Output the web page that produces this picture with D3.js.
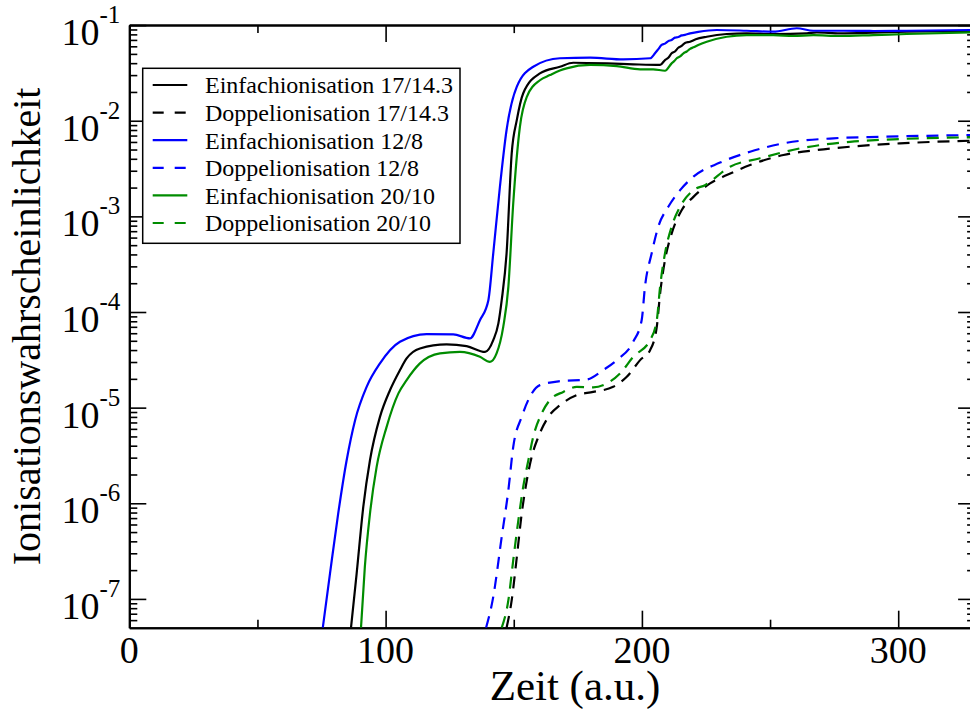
<!DOCTYPE html>
<html>
<head>
<meta charset="utf-8">
<script src="https://cdn.jsdelivr.net/npm/d3@7"></script>
<style>
  html, body { margin: 0; padding: 0; background: #fff; }
  svg { display: block; font-family: "Liberation Serif", "Times New Roman", serif; }
</style>
</head>
<body>
<svg id="chart" width="970" height="709"></svg>
<script>
// Time (a.u.) and ionisation probability for each laser setting.
const singleBlackT = [86.5, 88.7, 91.3, 93.9, 97.8, 101.7, 105.6, 108.2, 113.4, 123.8, 131.6, 138.8, 142.0, 144.0, 145.3, 147.2, 149.2, 151.2, 153.7, 160.2, 168.0, 173.2, 186.3, 196.6, 207.1, 209.0, 210.3, 211.6, 212.9, 214.2, 215.5, 216.8, 218.8, 221.0, 225.3, 233.1, 240.9, 251.3, 264.3, 268.2, 277.3, 290.3, 303.3, 330];
const singleBlackP = [5e-8, 1.84e-7, 9.2e-7, 2.82e-6, 8.0e-6, 1.52e-5, 2.47e-5, 3.27e-5, 4.16e-5, 4.58e-5, 4.4e-5, 3.83e-5, 5.08e-5, 7.6e-5, 1.33e-4, 4.1e-4, 4.56e-3, 0.0102, 0.0194, 0.0313, 0.0367, 0.0404, 0.0398, 0.0389, 0.0383, 0.0431, 0.0455, 0.0507, 0.053, 0.058, 0.0605, 0.065, 0.067, 0.071, 0.0756, 0.0807, 0.082, 0.0807, 0.082, 0.084, 0.082, 0.0833, 0.0853, 0.0868];

const doubleBlackT = [147.2, 149.2, 151.2, 153.1, 155.1, 157.0, 159.6, 163.5, 168.0, 174.6, 181.0, 188.8, 194.1, 199.3, 203.2, 205.8, 207.1, 209.0, 211.6, 215.5, 220.1, 226.6, 233.1, 242.2, 255.2, 268.2, 281.2, 300.7, 330];
const doubleBlackP = [5e-8, 9.7e-8, 2.75e-7, 7.8e-7, 1.74e-6, 3.06e-6, 4.95e-6, 8.0e-6, 1.06e-5, 1.35e-5, 1.46e-5, 1.65e-5, 2.1e-5, 3.14e-5, 3.99e-5, 7.0e-5, 1.56e-4, 3.49e-4, 6.6e-4, 1.16e-3, 1.6e-3, 2.21e-3, 2.7e-3, 3.44e-3, 4.38e-3, 4.94e-3, 5.35e-3, 5.8e-3, 6.2e-3];

const singleBlueT = [75.5, 78.3, 81.5, 84.8, 88.1, 92.6, 97.8, 105.6, 116.0, 126.4, 132.9, 136.8, 140.1, 142.0, 144.6, 147.2, 151.2, 157.6, 168.0, 179.8, 192.7, 203.2, 205.1, 206.4, 207.7, 209.0, 210.3, 211.6, 212.9, 214.2, 215.5, 216.8, 218.8, 222.0, 229.2, 240.9, 251.3, 260.4, 266.9, 277.3, 290.3, 303.3, 330];
const singleBlueP = [5e-8, 1.84e-7, 7.8e-7, 2.82e-6, 7.4e-6, 1.65e-5, 2.9e-5, 4.88e-5, 5.87e-5, 5.83e-5, 5.3e-5, 8.2e-5, 1.33e-4, 4.1e-4, 2.04e-3, 8.0e-3, 0.0227, 0.0367, 0.045, 0.0456, 0.0438, 0.045, 0.0507, 0.056, 0.062, 0.064, 0.068, 0.070, 0.074, 0.075, 0.078, 0.079, 0.082, 0.085, 0.0889, 0.0873, 0.0853, 0.0927, 0.0873, 0.0873, 0.0868, 0.0873, 0.089];

const doubleBlueT = [139.2, 142.0, 145.3, 147.9, 149.8, 153.1, 156.3, 160.2, 168.0, 178.5, 184.9, 190.2, 196.6, 199.9, 201.2, 203.8, 206.4, 210.3, 214.9, 220.1, 230.5, 242.2, 255.2, 274.7, 294.2, 330];
const doubleBlueP = [5e-8, 1.05e-7, 4.46e-7, 1.37e-6, 3.89e-6, 8.0e-6, 1.3e-5, 1.72e-5, 1.89e-5, 1.97e-5, 2.47e-5, 3.14e-5, 4.88e-5, 8.2e-5, 1.84e-4, 4.1e-4, 7.8e-4, 1.26e-3, 1.88e-3, 2.6e-3, 3.65e-3, 4.74e-3, 5.8e-3, 6.55e-3, 6.8e-3, 7.1e-3];

const singleGreenT = [90.4, 91.9, 93.9, 96.5, 100.4, 105.0, 108.2, 113.4, 121.2, 129.0, 136.8, 140.7, 143.3, 145.9, 147.9, 149.8, 152.4, 155.1, 160.2, 164.1, 168.0, 170.6, 179.8, 190.2, 199.3, 204.4, 209.0, 211.6, 212.6, 213.6, 214.9, 216.2, 217.5, 218.8, 220.1, 222.0, 225.3, 233.1, 240.9, 251.3, 259.1, 266.9, 277.3, 290.3, 303.3, 330];
const singleGreenP = [5e-8, 2.16e-7, 7.8e-7, 2.4e-6, 6.3e-6, 1.41e-5, 1.94e-5, 2.9e-5, 3.69e-5, 3.83e-5, 3.4e-5, 3.01e-5, 3.69e-5, 7.0e-5, 1.84e-4, 1.37e-3, 8.65e-3, 0.0178, 0.0265, 0.030, 0.0335, 0.0353, 0.0383, 0.0373, 0.0345, 0.0345, 0.0333, 0.0398, 0.042, 0.045, 0.047, 0.0507, 0.053, 0.0565, 0.0585, 0.062, 0.067, 0.0756, 0.0787, 0.0787, 0.0769, 0.0787, 0.0769, 0.0787, 0.0807, 0.0842];

const doubleGreenT = [145.3, 147.9, 149.8, 151.8, 153.7, 155.7, 157.6, 160.9, 164.1, 169.3, 174.6, 181.0, 186.3, 191.5, 196.6, 203.2, 205.8, 207.1, 209.0, 211.6, 214.9, 220.1, 224.6, 234.4, 246.1, 261.7, 281.2, 300.7, 330];
const doubleGreenP = [5e-8, 9.7e-8, 2.54e-7, 6.65e-7, 1.49e-6, 2.82e-6, 4.95e-6, 8.7e-6, 1.2e-5, 1.46e-5, 1.65e-5, 1.63e-5, 1.79e-5, 2.28e-5, 3.4e-5, 5.08e-5, 8.2e-5, 1.84e-4, 4.1e-4, 7.8e-4, 1.26e-3, 1.88e-3, 2.12e-3, 3.3e-3, 4.05e-3, 5.14e-3, 6.02e-3, 6.44e-3, 6.72e-3];

const seriesNames = [
  "Einfachionisation 17/14.3", "Doppelionisation 17/14.3",
  "Einfachionisation 12/8", "Doppelionisation 12/8",
  "Einfachionisation 20/10", "Doppelionisation 20/10"
];
const seriesColors = ["#000000", "#000000", "#0000ff", "#0000ff", "#008c00", "#008c00"];
const seriesDashed = [false, true, false, true, false, true];

const xMajorTicks = [0, 100, 200, 300];
const xMinorTicks = [50, 150, 250];
const yExponents = [-1, -2, -3, -4, -5, -6, -7];
const xTitle = "Zeit (a.u.)";
const yTitle = "Ionisationswahrscheinlichkeit";

const seriesT = [singleBlackT, doubleBlackT, singleBlueT, doubleBlueT, singleGreenT, doubleGreenT];
const seriesP = [singleBlackP, doubleBlackP, singleBlueP, doubleBlueP, singleGreenP, doubleGreenP];

// Plot frame
const L = 129.3, R = 975.1, T = 25.1, B = 627.7;
const svg = d3.select("#chart");

const x = d3.scaleLinear().domain([0, 330]).range([L, R]);
const y = d3.scaleLog().domain([5e-8, 0.1]).range([B, T]);

svg.append("defs").append("clipPath").attr("id", "plotClip")
  .append("rect").attr("x", L).attr("y", T).attr("width", R - L).attr("height", B - T);

// Minor log ticks: 2..9 times each decade inside the domain
const yMinor = [];
for (let e = -8; e <= -2; e++) {
  for (let m = 2; m <= 9; m++) {
    const v = m * Math.pow(10, e);
    if (v > 5e-8 && v < 0.1) yMinor.push(v);
  }
}
const yMajor = yExponents.map(e => Math.pow(10, e));

const MAJ = 17, MIN = 8;

function styleAxis(g) {
  g.select(".domain").attr("stroke", "#000").attr("stroke-width", 2);
  g.selectAll(".tick line").attr("stroke", "#000").attr("stroke-width", 1.6);
  g.selectAll(".tick text").remove();
}

// bottom & top axes (ticks pointing inward)
svg.append("g").attr("transform", `translate(0,${B})`)
  .call(d3.axisBottom(x).tickValues(xMajorTicks).tickSizeInner(-MAJ).tickSizeOuter(0)).call(styleAxis);
svg.append("g").attr("transform", `translate(0,${B})`)
  .call(d3.axisBottom(x).tickValues(xMinorTicks).tickSizeInner(-MIN).tickSizeOuter(0)).call(styleAxis);
svg.append("g").attr("transform", `translate(0,${T})`)
  .call(d3.axisTop(x).tickValues(xMajorTicks).tickSizeInner(-MAJ).tickSizeOuter(0)).call(styleAxis);
svg.append("g").attr("transform", `translate(0,${T})`)
  .call(d3.axisTop(x).tickValues(xMinorTicks).tickSizeInner(-MIN).tickSizeOuter(0)).call(styleAxis);

// left & right axes
svg.append("g").attr("transform", `translate(${L},0)`)
  .call(d3.axisLeft(y).tickValues(yMajor).tickSizeInner(-MAJ).tickSizeOuter(0)).call(styleAxis);
svg.append("g").attr("transform", `translate(${L},0)`)
  .call(d3.axisLeft(y).tickValues(yMinor).tickSizeInner(-MIN).tickSizeOuter(0)).call(styleAxis);
svg.append("g").attr("transform", `translate(${R},0)`)
  .call(d3.axisRight(y).tickValues(yMajor).tickSizeInner(-MAJ).tickSizeOuter(0)).call(styleAxis);
svg.append("g").attr("transform", `translate(${R},0)`)
  .call(d3.axisRight(y).tickValues(yMinor).tickSizeInner(-MIN).tickSizeOuter(0)).call(styleAxis);

// x tick labels
svg.append("g").selectAll("text").data(xMajorTicks).join("text")
  .attr("x", d => x(d)).attr("y", B + 35)
  .attr("text-anchor", "middle").attr("font-size", 38).attr("fill", "#000")
  .text(d => d);

// y tick labels: 10 with superscript exponent
const yl = svg.append("g").selectAll("text").data(yExponents).join("text")
  .attr("x", L - 9).attr("y", d => y(Math.pow(10, d)) + 20)
  .attr("text-anchor", "end").attr("font-size", 38).attr("fill", "#000");
yl.append("tspan").text("10");
yl.append("tspan").attr("font-size", 25).attr("dy", -22).text(d => "-" + Math.abs(d));

// axis titles
svg.append("text").attr("x", 575).attr("y", 700)
  .attr("text-anchor", "middle").attr("font-size", 43).attr("fill", "#000").text(xTitle);
svg.append("text").attr("transform", `translate(40,${(T + B) / 2}) rotate(-90)`)
  .attr("text-anchor", "middle").attr("font-size", 40).attr("fill", "#000").text(yTitle);

// curves
const line = d3.line().x(d => x(d[0])).y(d => y(d[1])).curve(d3.curveMonotoneX);
const plot = svg.append("g").attr("clip-path", "url(#plotClip)");
seriesNames.forEach((name, i) => {
  const pts = seriesT[i].map((t, k) => [t, seriesP[i][k]]);
  plot.append("path").datum(pts)
    .attr("d", line)
    .attr("fill", "none")
    .attr("stroke", seriesColors[i])
    .attr("stroke-width", 2.2)
    .attr("stroke-dasharray", seriesDashed[i] ? "12,8" : null);
});

// legend
const lg = svg.append("g");
lg.append("rect").attr("x", 142.7).attr("y", 68.3).attr("width", 317.3).attr("height", 175)
  .attr("fill", "#fff").attr("stroke", "#000").attr("stroke-width", 1.5);
seriesNames.forEach((name, i) => {
  const ry = 85 + i * 27.6;
  lg.append("line").attr("x1", 152.7).attr("x2", 187.3).attr("y1", ry).attr("y2", ry)
    .attr("stroke", seriesColors[i]).attr("stroke-width", 2.2)
    .attr("stroke-dasharray", seriesDashed[i] ? "11,11" : null);
  lg.append("text").attr("x", 205).attr("y", ry + 8.3)
    .attr("font-size", 24).attr("fill", "#000").text(name);
});
</script>
</body>
</html>
